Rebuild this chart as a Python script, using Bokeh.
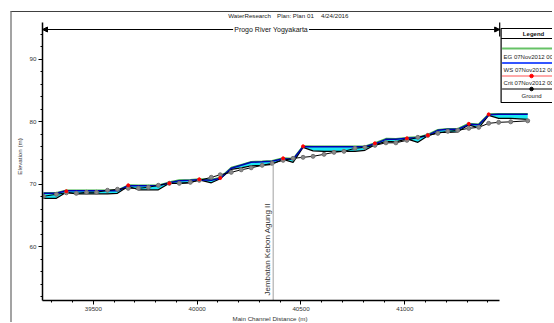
import math
from bokeh.plotting import figure
from bokeh.models import (Range1d, SingleIntervalTicker, Label, Arrow, NormalHead,
                          GlobalInlineStyleSheet, Title)
from bokeh.embed import file_html
from bokeh.resources import INLINE

# ---------------- data ----------------
station = [39260, 39322, 39370, 39418, 39467, 39515, 39568, 39616, 39668, 39717,
           39765, 39813, 39866, 39914, 39967, 40010, 40068, 40111, 40164, 40212,
           40260, 40313, 40361, 40414, 40462, 40510, 40558, 40611, 40659, 40707,
           40760, 40808, 40856, 40909, 40957, 41010, 41063, 41111, 41159, 41207,
           41255, 41308, 41356, 41404, 41452, 41510, 41592]
ground = [68.08, 68.40, 68.64, 68.56, 68.72, 68.72, 69.04, 69.20, 69.36, 69.36,
          69.52, 69.84, 70.16, 70.16, 70.32, 70.64, 71.12, 71.52, 71.92, 72.32,
          72.64, 73.04, 73.36, 73.84, 74.16, 74.32, 74.48, 74.80, 75.12, 75.28,
          75.76, 75.92, 76.24, 76.64, 76.64, 77.04, 77.52, 77.84, 78.16, 78.48,
          78.64, 78.96, 79.12, 79.76, 79.92, 80.00, 80.16]
ws = [68.56, 68.56, 68.96, 68.96, 68.96, 68.96, 68.96, 68.96, 69.76, 69.76,
      69.76, 69.76, 70.24, 70.56, 70.64, 70.72, 70.64, 70.96, 72.56, 73.04,
      73.52, 73.60, 73.68, 74.08, 74.00, 76.00, 76.00, 76.00, 76.00, 76.00,
      76.00, 76.00, 76.48, 77.20, 77.20, 77.36, 77.44, 77.84, 78.64, 78.80,
      78.80, 79.60, 79.52, 81.12, 81.20, 81.20, 81.20]
eg = [68.66, 68.66, 69.06, 69.05, 69.05, 69.05, 69.05, 69.05, 69.88, 69.86,
      69.86, 69.86, 70.36, 70.68, 70.75, 70.84, 70.76, 71.10, 72.70, 73.16,
      73.63, 73.70, 73.78, 74.22, 74.12, 76.14, 76.10, 76.09, 76.09, 76.09,
      76.09, 76.10, 76.62, 77.32, 77.31, 77.48, 77.56, 77.98, 78.76, 78.91,
      78.91, 79.74, 79.64, 81.26, 81.31, 81.31, 81.31]
bed = [67.76, 67.76, 68.72, 68.48, 68.48, 68.48, 68.48, 68.56, 69.68, 69.12,
       69.12, 69.12, 70.16, 70.16, 70.24, 70.72, 70.24, 70.88, 72.40, 72.64,
       72.96, 73.04, 73.20, 74.00, 73.52, 75.92, 75.36, 75.28, 75.28, 75.28,
       75.28, 75.44, 76.32, 76.88, 76.80, 77.28, 76.72, 77.76, 78.32, 78.32,
       78.40, 79.52, 79.04, 81.04, 80.56, 80.56, 80.40]
crit_station = [39370, 39668, 39866, 40010, 40111, 40414, 40510, 40856, 41010,
                41111, 41308, 41404]
crit_elev = [68.90, 69.84, 70.16, 70.80, 71.00, 74.16, 76.08, 76.56, 77.36,
             77.84, 79.68, 81.20]
bridge_station = 40366
bridge_ground = 73.36
bridge_name = "Jembatan Kebon Agung II"
reach_start, reach_end = 39255, 41457
reach_name = "Progo River Yogyakarta"
title_parts = ["WaterResearch", "Plan: Plan 01", "4/24/2016"]
x_title = "Main Channel Distance (m)"
y_title = "Elevation (m)"
legend_labels = ["EG  07Nov2012 0000", "WS  07Nov2012 0000", "Crit  07Nov2012 0000", "Ground"]

# ---------------- layout helpers ----------------
FL, FR, FT, FB = 41, 554, 12, 300  # frame in page pixels
x0, x1 = 39255, 41721
y0 = 51.4
YS = 44.5 / 278          # elevation units per pixel
y1 = y0 + (FB - FT) * YS


def X(px):
    return x0 + (px - FL) * (x1 - x0) / (FR - FL)


def Y(py):
    return y1 - (py - FT) * YS


FONT = "Liberation Sans"

p = figure(width=542, height=311, x_range=Range1d(x0, x1), y_range=Range1d(y0, y1),
           output_backend="svg", toolbar_location=None, title=None,
           min_border_left=29, min_border_right=0, min_border_top=0, min_border_bottom=23)
p.outline_line_color = None
p.xgrid.visible = False
p.ygrid.visible = False
p.styles = {"margin-left": "10px", "margin-top": "11px",
            "border-left": "2px solid #a3a3a3", "border-top": "1px solid #404040"}
p.stylesheets = [GlobalInlineStyleSheet(css="html, body { overflow: hidden; }")]

p.xaxis.ticker = SingleIntervalTicker(interval=500, num_minor_ticks=5)
p.yaxis.ticker = SingleIntervalTicker(interval=10, num_minor_ticks=5)
p.xaxis.bounds = (reach_start, reach_end)
p.yaxis.bounds = (y0, Y(22))
p.yaxis.axis_label = y_title
p.yaxis.axis_label_standoff = 4
for ax in (p.xaxis[0], p.yaxis[0]):
    ax.axis_line_width = 1.5
    ax.axis_line_color = "black"
    ax.major_tick_out = 4
    ax.major_tick_in = 0
    ax.minor_tick_out = 2
    ax.minor_tick_in = 0
    ax.major_label_text_font = FONT
    ax.major_label_text_font_size = "6.2px"
    ax.major_label_text_color = "#333333"
    ax.major_label_standoff = 2
    ax.axis_label_text_font = FONT
    ax.axis_label_text_font_size = "6.2px"
    ax.axis_label_text_font_style = "normal"
    ax.axis_label_text_color = "#333333"

p.add_layout(Title(text=x_title, align="left", offset=190, standoff=0,
                   vertical_align="middle", text_font=FONT, text_font_size="6.2px",
                   text_font_style="normal", text_color="#333333"), "below")

# ---------------- profile ----------------
p.varea(x=station, y1=bed, y2=ws, fill_color="#19e6f2")
p.line(station, bed, line_color="black", line_width=1.2)
p.line(station, eg, line_color="#3cb043", line_width=1.4)
p.line(station, ws, line_color="#0000b0", line_width=1.5)
p.line(station, ground, line_color="black", line_width=1)
p.scatter(station, ground, size=4, fill_color="#8a8a8a", line_color="#707070")
p.scatter(crit_station, crit_elev, size=3, fill_color="red", line_color="red")

# bridge
p.segment(x0=[bridge_station], y0=[y0], x1=[bridge_station], y1=[bridge_ground],
          line_color="#a0a0a0", line_width=1)
p.add_layout(Label(x=bridge_station, y=Y(295), text=bridge_name, angle=math.pi / 2,
                   text_align="left", text_baseline="bottom", x_offset=-1,
                   text_font=FONT, text_font_size="8px", text_color="#333333"))

# title texts (inside the top band of the frame)
for t, px in zip(title_parts, (227, 276, 320)):
    p.add_layout(Label(x=X(px), y=Y(15), text=t, text_align="left", text_baseline="middle",
                       text_font=FONT, text_font_size="6.2px", text_color="#222222"))

# reach arrow
ya = Y(29)
p.add_layout(Arrow(end=NormalHead(size=5, fill_color="black", line_color="black"),
                   x_start=X(232), y_start=ya, x_end=reach_start, y_end=ya,
                   line_width=1, line_color="black"))
p.add_layout(Arrow(end=NormalHead(size=5, fill_color="black", line_color="black"),
                   x_start=X(308), y_start=ya, x_end=reach_end, y_end=ya,
                   line_width=1, line_color="black"))
p.segment(x0=[reach_end], y0=[Y(22)], x1=[reach_end], y1=[Y(36)], line_color="black", line_width=1.2)
p.add_layout(Label(x=X(270), y=ya, text=reach_name, text_align="center",
                   text_baseline="middle", text_font=FONT, text_font_size="7px",
                   text_color="#111111"))

# ---------------- legend ----------------
p.quad(left=[X(500.5)], right=[X(580)], top=[Y(28)], bottom=[Y(102)],
       fill_color="white", line_color="black", line_width=1.2)
p.line([X(500.5), X(580)], [Y(38), Y(38)], line_color="black", line_width=1)
p.add_layout(Label(x=X(533), y=Y(33), text="Legend", text_align="center",
                   text_baseline="middle", text_font=FONT, text_font_size="6px",
                   text_font_style="bold", text_color="#111111"))
leg_colors = ["#66c266", "#3355ff", "#ffa8a8", "black"]
leg_line_y = [48, 62.5, 75.5, 88.5]
leg_text_y = [56.5, 69, 82, 95]
for i, (lab, col) in enumerate(zip(legend_labels, leg_colors)):
    p.line([X(501.5), X(580)], [Y(leg_line_y[i])] * 2, line_color=col, line_width=2 if i < 3 else 1.2)
    if i == 2:
        p.scatter([X(531)], [Y(leg_line_y[i])], size=3.5, fill_color="red", line_color="red")
    if i == 3:
        p.scatter([X(531)], [Y(leg_line_y[i])], size=3.5, fill_color="black", line_color="black")
        p.add_layout(Label(x=X(531), y=Y(leg_text_y[i]), text=lab, text_align="center",
                           text_baseline="middle", text_font=FONT, text_font_size="6px",
                           text_color="#222222"))
    else:
        p.add_layout(Label(x=X(503), y=Y(leg_text_y[i]), text=lab, text_align="left",
                           text_baseline="middle", text_font=FONT, text_font_size="6px",
                           text_color="#222222"))

open("out.html", "w").write(file_html(p, INLINE))
